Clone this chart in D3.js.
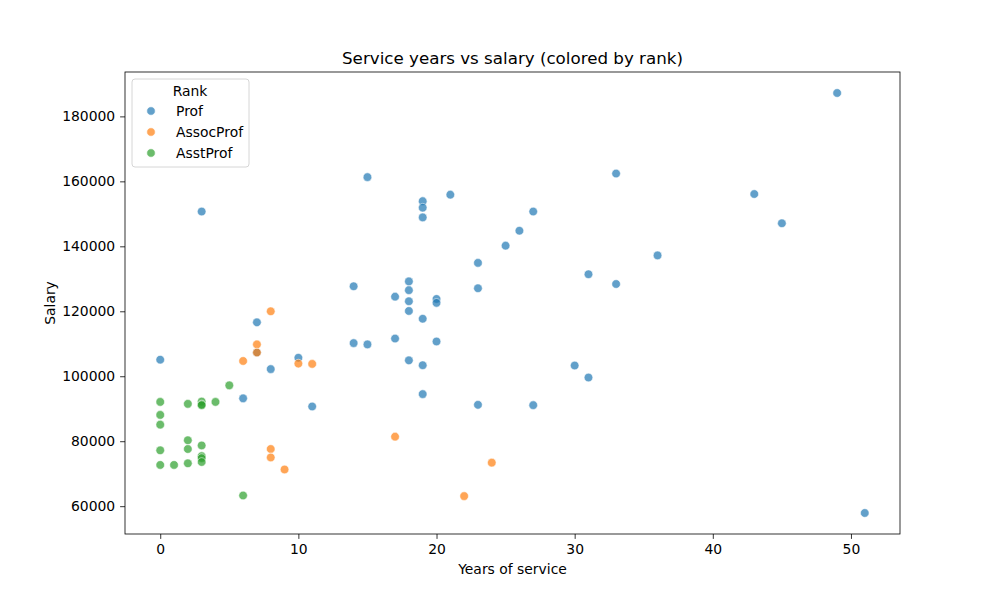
<!DOCTYPE html>
<html>
<head>
<meta charset="utf-8">
<script src="https://cdn.jsdelivr.net/npm/d3@7"></script>
<style>
  body { margin: 0; background: #fff; }
  text { font-family: "DejaVu Sans", sans-serif; fill: #000; }
</style>
</head>
<body>
<div id="chart"></div>
<script>
// Canvas size
var WIDTH = 1000, HEIGHT = 600;
var LEFT = 125, RIGHT = 900, TOP = 72, BOTTOM = 534;

// Ranks and their colours (tab10)
var RANKS = ["Prof", "AssocProf", "AsstProf"];
var COLORS = ["#1f77b4", "#ff7f0e", "#2ca02c"];

// Years of service / salary per rank
var profYears = [49, 15, 33, 3, 21, 19, 19, 19, 27, 43, 45, 26, 25, 36, 23, 31, 33, 14, 23, 18, 18, 17, 18, 20, 20, 18, 19, 7, 17, 14, 15, 20, 7, 10, 0, 18, 19, 8, 30, 31, 6, 11, 19, 23, 27, 51];
var profSalary = [187200, 161300, 162400, 150700, 155900, 153900, 151900, 148900, 150700, 156100, 147100, 144800, 140200, 137200, 134900, 131400, 128400, 127700, 127100, 129200, 126500, 124500, 123100, 123800, 122600, 120100, 117700, 116600, 111600, 110200, 109800, 110700, 107300, 105700, 105100, 104900, 103400, 102200, 103300, 99600, 93200, 90700, 94500, 91200, 91100, 57900];

var assocYears = [8, 7, 7, 6, 10, 11, 17, 8, 8, 9, 24, 22];
var assocSalary = [120000, 109800, 107300, 104700, 103900, 103800, 81400, 77600, 75000, 71300, 73400, 63100];

var asstYears = [5, 0, 2, 3, 3, 3, 4, 0, 0, 2, 3, 2, 0, 3, 3, 3, 2, 0, 1, 6];
var asstSalary = [97200, 92100, 91500, 92200, 91300, 91100, 92100, 88100, 85100, 80300, 78700, 77600, 77200, 75400, 74800, 73600, 73200, 72700, 72700, 63300];

var yTicks = [60000, 80000, 100000, 120000, 140000, 160000, 180000];
var xTicks = [0, 10, 20, 30, 40, 50];

var SERIES = [
    { years: profYears, salary: profSalary },
    { years: assocYears, salary: assocSalary },
    { years: asstYears, salary: asstSalary }
];

var SVG = d3.select("#chart").append("svg")
    .attr("width", WIDTH)
    .attr("height", HEIGHT);

// matplotlib style 5% padding around data
var allX = [].concat(profYears, assocYears, asstYears);
var allY = [].concat(profSalary, assocSalary, asstSalary);
var xMin = d3.min(allX), xMax = d3.max(allX);
var yMin = d3.min(allY), yMax = d3.max(allY);
var xPad = (xMax - xMin) * 0.05, yPad = (yMax - yMin) * 0.05;

var x = d3.scaleLinear().domain([xMin - xPad, xMax + xPad]).range([LEFT, RIGHT]);
var y = d3.scaleLinear().domain([yMin - yPad, yMax + yPad]).range([BOTTOM, TOP]);

/**
 * Points, one layer per rank.
 */
var LAYER_POINTS = SVG.append("g");
SERIES.forEach(function (s, k) {
    LAYER_POINTS.append("g").selectAll("circle")
        .data(s.years.map(function (v, i) { return [v, s.salary[i]]; }))
        .enter().append("circle")
        .attr("cx", function (d) { return x(d[0]); })
        .attr("cy", function (d) { return y(d[1]); })
        .attr("r", 4.3)
        .attr("fill", COLORS[k])
        .attr("fill-opacity", 0.7)
        .attr("stroke", "#fff")
        .attr("stroke-opacity", 0.7)
        .attr("stroke-width", 0.75);
});

/**
 * Axes.
 */
var xAxis = SVG.append("g").attr("transform", "translate(0," + BOTTOM + ")")
    .call(d3.axisBottom(x).tickValues(xTicks).tickSize(4.9).tickPadding(4.9).tickSizeOuter(0));
var yAxis = SVG.append("g").attr("transform", "translate(" + LEFT + ",0)")
    .call(d3.axisLeft(y).tickValues(yTicks).tickSize(4.9).tickPadding(4.9).tickSizeOuter(0).tickFormat(d3.format("d")));
[xAxis, yAxis].forEach(function (a) {
    a.select(".domain").remove();
    a.selectAll("text").style("font-size", "13.9px").style("font-family", "DejaVu Sans");
    a.selectAll("line").attr("stroke", "#000").attr("stroke-width", 0.8);
});

// frame
SVG.append("rect").attr("x", LEFT).attr("y", TOP)
    .attr("width", RIGHT - LEFT).attr("height", BOTTOM - TOP)
    .attr("fill", "none").attr("stroke", "#000").attr("stroke-width", 0.8);

/**
 * Titles and labels.
 */
SVG.append("text").attr("x", (LEFT + RIGHT) / 2).attr("y", 64)
    .attr("text-anchor", "middle").style("font-size", "16.7px")
    .text("Service years vs salary (colored by rank)");
SVG.append("text").attr("x", (LEFT + RIGHT) / 2).attr("y", 574)
    .attr("text-anchor", "middle").style("font-size", "13.9px")
    .text("Years of service");
SVG.append("text").attr("transform", "translate(55," + ((TOP + BOTTOM) / 2) + ") rotate(-90)")
    .attr("text-anchor", "middle").style("font-size", "13.9px")
    .text("Salary");

/**
 * Legend.
 */
var LEGEND = SVG.append("g").attr("transform", "translate(132,79)");
LEGEND.append("rect").attr("width", 117).attr("height", 88).attr("rx", 3)
    .attr("fill", "#fff").attr("fill-opacity", 0.8)
    .attr("stroke", "#ccc").attr("stroke-width", 0.8);
LEGEND.append("text").attr("x", 58).attr("y", 17).attr("text-anchor", "middle")
    .style("font-size", "13.9px").text("Rank");
RANKS.forEach(function (r, k) {
    var yy = 32 + k * 21;
    LEGEND.append("circle").attr("cx", 19).attr("cy", yy).attr("r", 4.3)
        .attr("fill", COLORS[k]).attr("fill-opacity", 0.7)
        .attr("stroke", "#fff").attr("stroke-width", 0.75);
    LEGEND.append("text").attr("x", 44).attr("y", yy + 5)
        .style("font-size", "13.9px").text(r);
});
</script>
</body>
</html>
